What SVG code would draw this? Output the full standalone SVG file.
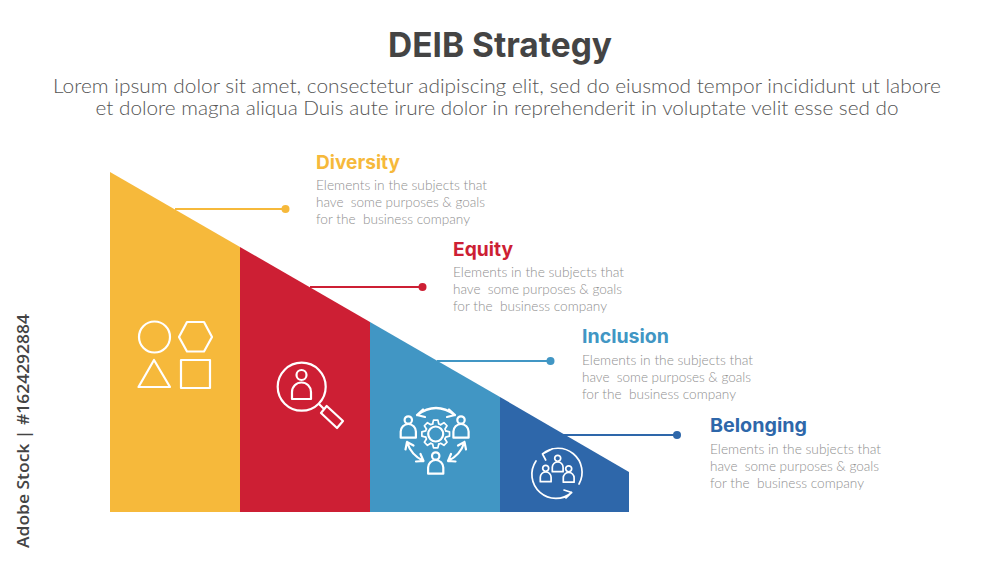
<svg xmlns="http://www.w3.org/2000/svg" width="1000" height="563" viewBox="0 0 1000 563">
<style>
text{font-family:"Lato","Liberation Sans",sans-serif;white-space:pre}
.h{font-family:"Inter","Liberation Sans",sans-serif;font-weight:700}
.t{font-size:14px;fill:#8f8f8f;font-weight:300}
.s{font-size:19.5px;fill:#555;font-weight:300}
.i{fill:none;stroke:#fff;stroke-width:2.2;stroke-linejoin:round;stroke-linecap:round}
.l{stroke-width:2;fill:none}
</style>
<defs>
<g id="p"><circle cx="0" cy="0" r="3.7"/><path d="M-7.600 17.700V11.600a7.600 7.600 0 0 1 15.200 0V17.700Z"/></g>
<g id="q"><circle cx="0" cy="0" r="3"/><path d="M-5.400 13.400V9a5.400 5.400 0 0 1 10.800 0V13.400Z"/></g>
<path id="k" d="M10.040-3.070L13.830-2.190V2.190L10.040 3.070A10.500 10.500 0 0 1 9.270 4.930"/>
</defs>
<rect width="1000" height="563" fill="#fff"/>
<g id="title">
<text class="h" x="500" y="57" text-anchor="middle" font-size="34" fill="#444" textLength="224" lengthAdjust="spacingAndGlyphs">DEIB Strategy</text>
<text class="s" x="497" y="93" text-anchor="middle" textLength="888" lengthAdjust="spacingAndGlyphs">Lorem ipsum dolor sit amet, consectetur adipiscing elit, sed do eiusmod tempor incididunt ut labore</text>
<text class="s" x="497" y="115" text-anchor="middle" textLength="803" lengthAdjust="spacingAndGlyphs">et dolore magna aliqua Duis aute irure dolor in reprehenderit in voluptate velit esse sed do</text>
</g>
<g id="connectors">
<path class="l" stroke="#f6b93b" d="M175 209H285"/><circle cx="285.500" cy="209" r="4" fill="#f6b93b"/>
<path class="l" stroke="#cd1f34" d="M310 287H422"/><circle cx="422.500" cy="287" r="4" fill="#cd1f34"/>
<path class="l" stroke="#4196c4" d="M437 361H550"/><circle cx="550.500" cy="361" r="4" fill="#4196c4"/>
<path class="l" stroke="#2e67aa" d="M563 435H677"/><circle cx="677" cy="435" r="4" fill="#2e67aa"/>
</g>
<g id="diversity">
<path d="M110 172L240 247V512H110Z" fill="#f6b93b"/>
<g class="i"><circle cx="154.500" cy="337" r="15.500"/><path d="M187 322H204L212 337L204 351.500H187L179 337Z"/><path d="M154 360L138.500 387H170Z"/><rect x="181" y="360" width="29" height="28"/></g>
<text class="h" x="316" y="169" font-size="19" fill="#f6b93b" textLength="84" lengthAdjust="spacingAndGlyphs">Diversity</text>
<text class="t" x="316" y="190" textLength="171" lengthAdjust="spacingAndGlyphs">Elements in the subjects that</text>
<text class="t" x="316" y="207" textLength="169" lengthAdjust="spacingAndGlyphs">have  some purposes &amp; goals</text>
<text class="t" x="316" y="224" textLength="154" lengthAdjust="spacingAndGlyphs">for the  business company</text>
</g>
<g id="equity">
<path d="M240 247L370 322V512H240Z" fill="#cd1f34"/>
<g class="i"><circle cx="301.700" cy="386.700" r="24"/><circle cx="301.500" cy="375" r="5"/><path d="M292 399V392a9.500 9.500 0 0 1 19 0V399Z"/><path d="M319 404L323.500 408.500M326.700 406L343 421L337 428L321 413Z"/></g>
<text class="h" x="453" y="256" font-size="19" fill="#cd1f34" textLength="60" lengthAdjust="spacingAndGlyphs">Equity</text>
<text class="t" x="453" y="277" textLength="171" lengthAdjust="spacingAndGlyphs">Elements in the subjects that</text>
<text class="t" x="453" y="294" textLength="169" lengthAdjust="spacingAndGlyphs">have  some purposes &amp; goals</text>
<text class="t" x="453" y="311" textLength="154" lengthAdjust="spacingAndGlyphs">for the  business company</text>
</g>
<g id="inclusion">
<path d="M370 322L500 397V512H370Z" fill="#4196c4"/>
<g class="i">
<use href="#p" x="408.300" y="420"/><use href="#p" x="461" y="420"/><use href="#p" x="435.700" y="456"/>
<circle cx="435.700" cy="434" r="7.500"/>
<g transform="translate(435.700 434)" stroke-width="1.700"><use href="#k"/><use href="#k" transform="rotate(45)"/><use href="#k" transform="rotate(90)"/><use href="#k" transform="rotate(135)"/><use href="#k" transform="rotate(180)"/><use href="#k" transform="rotate(225)"/><use href="#k" transform="rotate(270)"/><use href="#k" transform="rotate(315)"/></g>
<path d="M417 415Q436 401 455 415M417 415L423 409.500M417 415L425 417M455 415L449 409.500M455 415L447 417"/>
<path d="M407 442Q411 455 423.500 461M407 442L405.500 449.500M407 442L413.500 445.500M423.500 461L416 461.500M423.500 461L420.500 454"/>
<path d="M464.500 442Q460.500 455 448 461M464.500 442L466 449.500M464.500 442L458 445.500M448 461L455.500 461.500M448 461L451 454"/>
</g>
<text class="h" x="582" y="343" font-size="19" fill="#4196c4" textLength="87" lengthAdjust="spacingAndGlyphs">Inclusion</text>
<text class="t" x="582" y="365" textLength="171" lengthAdjust="spacingAndGlyphs">Elements in the subjects that</text>
<text class="t" x="582" y="382" textLength="169" lengthAdjust="spacingAndGlyphs">have  some purposes &amp; goals</text>
<text class="t" x="582" y="399" textLength="154" lengthAdjust="spacingAndGlyphs">for the  business company</text>
</g>
<g id="belonging">
<path d="M500 397L629 472V512H500Z" fill="#2e67aa"/>
<g class="i" style="stroke-width:1.700">
<use href="#q" x="557.700" y="458.300"/><use href="#q" x="545.700" y="468.300"/><use href="#q" x="568.700" y="468.800"/>
<path d="M542.500 454A24 24 0 0 1 579 484M542.500 454L552 449M542.500 454L545.700 460"/>
<path d="M571.700 492.500A24 24 0 0 1 536 461M571.700 492.500L564 490M571.700 492.500L566 498"/>
</g>
<text class="h" x="710" y="432" font-size="19" fill="#2e67aa" textLength="97" lengthAdjust="spacingAndGlyphs">Belonging</text>
<text class="t" x="710" y="454" textLength="171" lengthAdjust="spacingAndGlyphs">Elements in the subjects that</text>
<text class="t" x="710" y="471" textLength="169" lengthAdjust="spacingAndGlyphs">have  some purposes &amp; goals</text>
<text class="t" x="710" y="488" textLength="154" lengthAdjust="spacingAndGlyphs">for the  business company</text>
</g>
<text transform="translate(29 548) rotate(-90)" font-size="17" fill="#444" style="font-family:'Open Sans','Liberation Sans',sans-serif" font-weight="600" textLength="234" lengthAdjust="spacingAndGlyphs">Adobe Stock | #1624292884</text>
</svg>
